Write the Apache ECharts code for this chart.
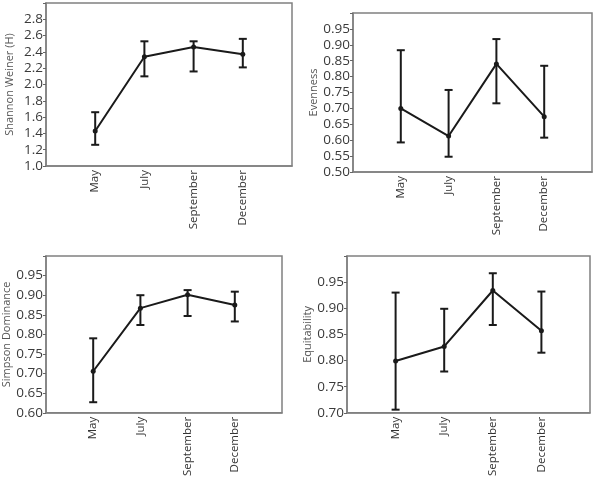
<!DOCTYPE html>
<html>
<head>
<meta charset="utf-8">
<script src="https://cdn.jsdelivr.net/npm/echarts@6/dist/echarts.min.js"></script>
<style>
  html, body { margin: 0; padding: 0; background: #fff; }
  #main { width: 596px; height: 479px; }
</style>
</head>
<body>
<div id="main"></div>
<script>
// months on the x axis
var months = ['May', 'July', 'September', 'December'];

// Shannon Weiner (H)
var shannonMean = [1.43, 2.34, 2.46, 2.37];
var shannonLow  = [1.26, 2.10, 2.16, 2.21];
var shannonHigh = [1.66, 2.53, 2.53, 2.56];

// Evenness
var evenMean = [0.700, 0.613, 0.840, 0.674];
var evenLow  = [0.593, 0.548, 0.716, 0.608];
var evenHigh = [0.883, 0.758, 0.918, 0.834];

// Simpson Dominance
var simpMean = [0.706, 0.867, 0.901, 0.875];
var simpLow  = [0.627, 0.824, 0.847, 0.833];
var simpHigh = [0.790, 0.900, 0.913, 0.909];

// Equitability
var equiMean = [0.799, 0.827, 0.934, 0.857];
var equiLow  = [0.706, 0.779, 0.868, 0.815];
var equiHigh = [0.930, 0.899, 0.967, 0.932];

var panels = [
    {name: 'Shannon Weiner (H)', mean: shannonMean, low: shannonLow, high: shannonHigh,
     min: 1.0, max: 3.0, step: 0.2, dec: 1, nameGap: 31,
     grid: {left: 46, top: 3, width: 246, height: 163}},
    {name: 'Evenness', mean: evenMean, low: evenLow, high: evenHigh,
     min: 0.5, max: 1.0, step: 0.05, dec: 2, nameGap: 30,
     grid: {left: 353, top: 13, width: 239, height: 159}},
    {name: 'Simpson Dominance', mean: simpMean, low: simpLow, high: simpHigh,
     min: 0.6, max: 1.0, step: 0.05, dec: 2, nameGap: 30,
     grid: {left: 46, top: 256, width: 236, height: 159}},
    {name: 'Equitability', mean: equiMean, low: equiLow, high: equiHigh,
     min: 0.7, max: 1.0, step: 0.05, dec: 2, nameGap: 33,
     grid: {left: 347, top: 256, width: 243, height: 160}}
];

var cats = [''].concat(months).concat(['']);
var font = 'Open Sans';
var frame = '#808080';
var ink = '#1a1a1a';

var grids = [], xAxes = [], yAxes = [], series = [];

panels.forEach(function (p, k) {
    grids.push({
        left: p.grid.left, top: p.grid.top, width: p.grid.width, height: p.grid.height,
        show: true, borderColor: frame, borderWidth: 1.5, backgroundColor: '#fff'
    });
    xAxes.push({
        gridIndex: k, type: 'category', data: cats, boundaryGap: false,
        axisLine: {show: true, lineStyle: {color: frame, width: 1.5}},
        axisTick: {show: false},
        splitLine: {show: false},
        axisLabel: {interval: 0, rotate: 90, margin: 4, fontSize: 11.5,
                    fontFamily: font, color: '#333'}
    });
    yAxes.push({
        gridIndex: k, type: 'value', min: p.min, max: p.max, interval: p.step,
        name: p.name, nameLocation: 'middle', nameGap: p.nameGap,
        nameTextStyle: {fontSize: 11, fontFamily: font, color: '#555'},
        axisLine: {show: true, lineStyle: {color: frame, width: 1.5}},
        axisTick: {show: true, length: 3, lineStyle: {color: '#666'}},
        splitLine: {show: false},
        axisLabel: {margin: 3, fontSize: 13.5, fontFamily: font, color: '#3a3a3a',
            formatter: function (v) {
                if (v > p.max - p.step / 2) return '';
                return v.toFixed(p.dec);
            }}
    });
    series.push({
        type: 'line', xAxisIndex: k, yAxisIndex: k,
        data: ['-'].concat(p.mean).concat(['-']),
        symbol: 'circle', symbolSize: 5,
        itemStyle: {color: ink},
        lineStyle: {color: ink, width: 2},
        z: 3
    });
    var bars = p.mean.map(function (m, i) { return [i + 1, p.low[i], p.high[i]]; });
    series.push({
        type: 'custom', xAxisIndex: k, yAxisIndex: k, data: bars,
        renderItem: function (params, api) {
            var x = api.value(0);
            var lo = api.coord([x, api.value(1)]);
            var hi = api.coord([x, api.value(2)]);
            var w = 4;
            var st = {stroke: ink, lineWidth: 2};
            return {
                type: 'group',
                children: [
                    {type: 'line', shape: {x1: hi[0], y1: hi[1], x2: lo[0], y2: lo[1]}, style: st},
                    {type: 'line', shape: {x1: hi[0] - w, y1: hi[1], x2: hi[0] + w, y2: hi[1]}, style: st},
                    {type: 'line', shape: {x1: lo[0] - w, y1: lo[1], x2: lo[0] + w, y2: lo[1]}, style: st}
                ]
            };
        },
        z: 2
    });
});

var myChart = echarts.init(document.getElementById('main'));
myChart.setOption({
    animation: false,
    backgroundColor: '#fff',
    grid: grids,
    xAxis: xAxes,
    yAxis: yAxes,
    series: series
});
</script>
</body>
</html>
